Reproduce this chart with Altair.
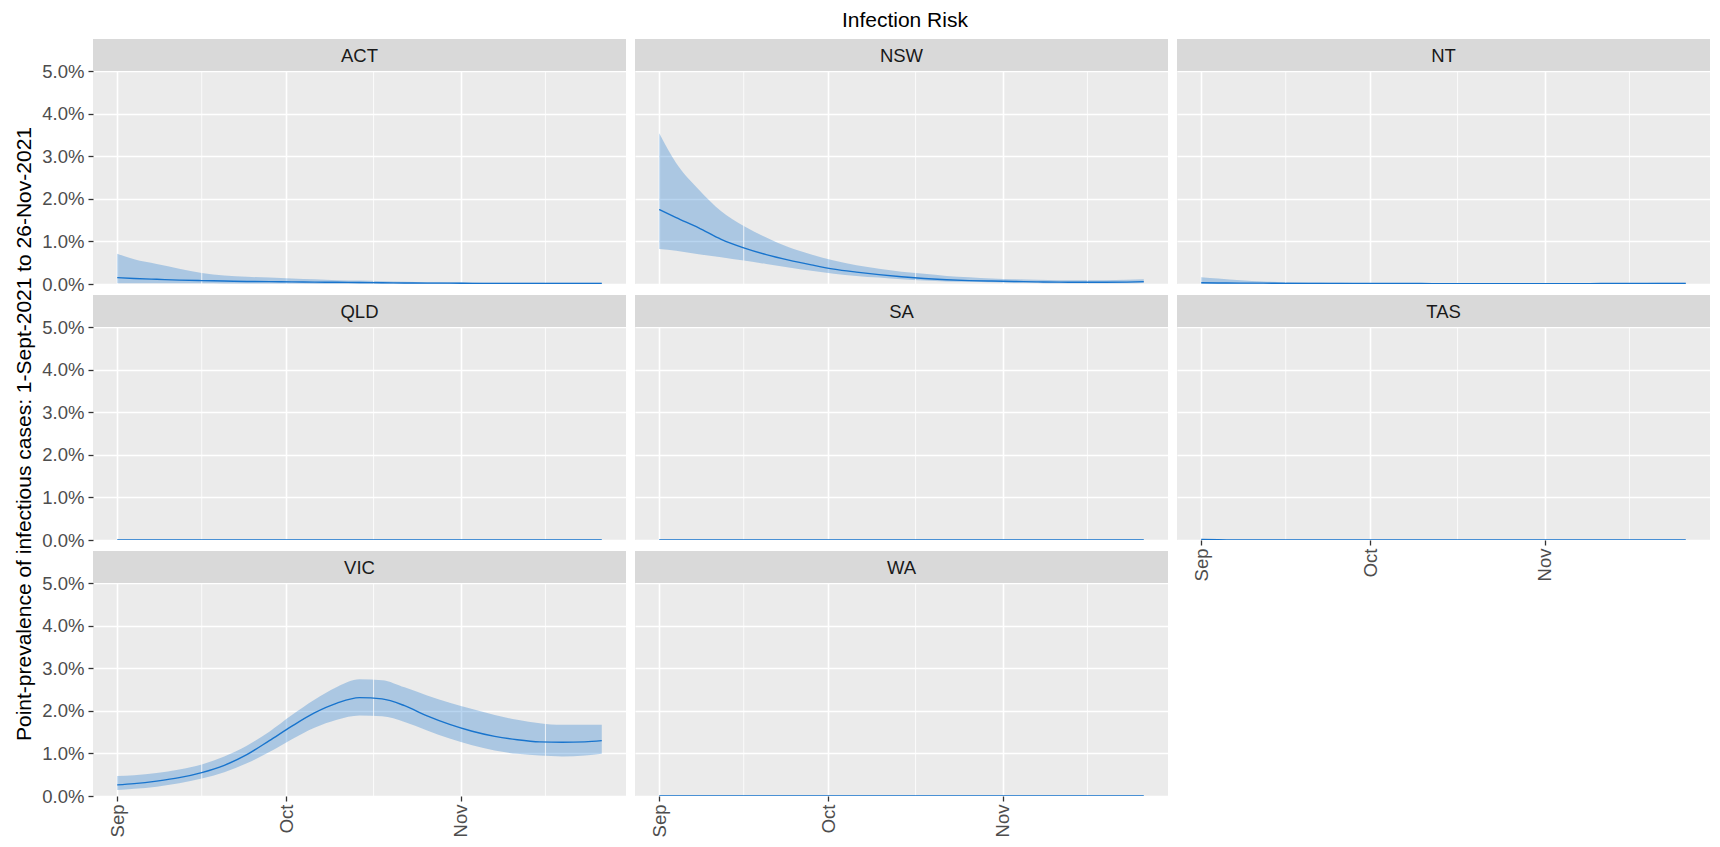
import altair as alt
import pandas as pd

# ---------------- data (values in percent) ----------------
dates = ["2021-09-01", "2021-09-04", "2021-09-08", "2021-09-12", "2021-09-16", "2021-09-20",
         "2021-09-24", "2021-09-28", "2021-10-02", "2021-10-06", "2021-10-10", "2021-10-14",
         "2021-10-18", "2021-10-22", "2021-10-26", "2021-10-30", "2021-11-03", "2021-11-07",
         "2021-11-11", "2021-11-15", "2021-11-19", "2021-11-23", "2021-11-26"]

states = ["ACT", "NSW", "NT", "QLD", "SA", "TAS", "VIC", "WA"]

act_med = [0.15, 0.13, 0.11, 0.09, 0.08, 0.07, 0.06, 0.055, 0.05, 0.045, 0.04, 0.035, 0.03, 0.025, 0.02, 0.02, 0.015, 0.015, 0.015, 0.015, 0.015, 0.015, 0.015]
act_lo = [0.02, 0.02, 0.02, 0.015, 0.015, 0.01, 0.01, 0.01, 0.01, 0.005, 0.005, 0.005, 0.005, 0.005, 0.005, 0.0, 0.0, 0.0, 0.0, 0.0, 0.0, 0.0, 0.0]
act_hi = [0.71, 0.58, 0.47, 0.36, 0.26, 0.20, 0.17, 0.15, 0.13, 0.11, 0.09, 0.08, 0.065, 0.055, 0.045, 0.04, 0.035, 0.03, 0.03, 0.03, 0.03, 0.03, 0.03]

nsw_med = [1.75, 1.56, 1.32, 1.05, 0.85, 0.69, 0.56, 0.45, 0.35, 0.28, 0.22, 0.17, 0.13, 0.10, 0.08, 0.07, 0.06, 0.05, 0.045, 0.04, 0.04, 0.045, 0.055]
nsw_lo = [0.82, 0.78, 0.70, 0.63, 0.55, 0.47, 0.39, 0.31, 0.24, 0.19, 0.15, 0.11, 0.08, 0.06, 0.05, 0.04, 0.03, 0.025, 0.02, 0.02, 0.02, 0.02, 0.025]
nsw_hi = [3.54, 2.84, 2.22, 1.71, 1.36, 1.09, 0.86, 0.69, 0.55, 0.44, 0.36, 0.29, 0.24, 0.19, 0.16, 0.13, 0.11, 0.10, 0.09, 0.09, 0.09, 0.10, 0.11]

nt_med = [0.03, 0.025, 0.02, 0.02, 0.015, 0.015, 0.01, 0.01, 0.01, 0.01, 0.01, 0.005, 0.005, 0.005, 0.005, 0.005, 0.005, 0.005, 0.01, 0.01, 0.01, 0.015, 0.015]
nt_lo = [0.005, 0.005, 0.005, 0.005, 0.0, 0.0, 0.0, 0.0, 0.0, 0.0, 0.0, 0.0, 0.0, 0.0, 0.0, 0.0, 0.0, 0.0, 0.0, 0.0, 0.0, 0.0, 0.0]
nt_hi = [0.16, 0.13, 0.09, 0.06, 0.045, 0.035, 0.03, 0.025, 0.02, 0.02, 0.02, 0.015, 0.015, 0.015, 0.015, 0.015, 0.015, 0.02, 0.02, 0.02, 0.025, 0.03, 0.03]

qld_med = [0.0, 0.0, 0.0, 0.0, 0.0, 0.0, 0.0, 0.0, 0.0, 0.0, 0.0, 0.0, 0.0, 0.0, 0.0, 0.0, 0.0, 0.0, 0.0, 0.0, 0.0, 0.0, 0.0]
qld_lo = [0.0, 0.0, 0.0, 0.0, 0.0, 0.0, 0.0, 0.0, 0.0, 0.0, 0.0, 0.0, 0.0, 0.0, 0.0, 0.0, 0.0, 0.0, 0.0, 0.0, 0.0, 0.0, 0.0]
qld_hi = [0.005, 0.005, 0.005, 0.005, 0.005, 0.005, 0.005, 0.005, 0.005, 0.005, 0.005, 0.005, 0.005, 0.005, 0.005, 0.005, 0.005, 0.005, 0.005, 0.005, 0.005, 0.005, 0.005]

sa_med = [0.0, 0.0, 0.0, 0.0, 0.0, 0.0, 0.0, 0.0, 0.0, 0.0, 0.0, 0.0, 0.0, 0.0, 0.0, 0.0, 0.0, 0.0, 0.0, 0.0, 0.0, 0.0, 0.0]
sa_lo = [0.0, 0.0, 0.0, 0.0, 0.0, 0.0, 0.0, 0.0, 0.0, 0.0, 0.0, 0.0, 0.0, 0.0, 0.0, 0.0, 0.0, 0.0, 0.0, 0.0, 0.0, 0.0, 0.0]
sa_hi = [0.005, 0.005, 0.005, 0.005, 0.005, 0.005, 0.005, 0.005, 0.005, 0.005, 0.005, 0.005, 0.005, 0.005, 0.005, 0.005, 0.005, 0.005, 0.005, 0.005, 0.005, 0.005, 0.005]

tas_med = [0.01, 0.005, 0.0, 0.0, 0.0, 0.0, 0.0, 0.0, 0.0, 0.0, 0.0, 0.0, 0.0, 0.0, 0.0, 0.0, 0.0, 0.0, 0.0, 0.0, 0.0, 0.0, 0.0]
tas_lo = [0.0, 0.0, 0.0, 0.0, 0.0, 0.0, 0.0, 0.0, 0.0, 0.0, 0.0, 0.0, 0.0, 0.0, 0.0, 0.0, 0.0, 0.0, 0.0, 0.0, 0.0, 0.0, 0.0]
tas_hi = [0.02, 0.01, 0.005, 0.005, 0.005, 0.005, 0.005, 0.005, 0.005, 0.005, 0.005, 0.005, 0.005, 0.005, 0.005, 0.005, 0.005, 0.005, 0.005, 0.005, 0.005, 0.005, 0.005]

vic_med = [0.26, 0.29, 0.35, 0.43, 0.55, 0.72, 0.97, 1.30, 1.64, 1.95, 2.18, 2.31, 2.28, 2.12, 1.88, 1.68, 1.52, 1.40, 1.32, 1.27, 1.26, 1.27, 1.30]
vic_lo = [0.14, 0.17, 0.22, 0.30, 0.41, 0.56, 0.77, 1.03, 1.33, 1.60, 1.79, 1.89, 1.87, 1.74, 1.54, 1.35, 1.19, 1.07, 0.99, 0.95, 0.93, 0.95, 0.99]
vic_hi = [0.47, 0.49, 0.54, 0.62, 0.74, 0.93, 1.18, 1.51, 1.90, 2.26, 2.56, 2.74, 2.72, 2.55, 2.36, 2.19, 2.04, 1.90, 1.79, 1.71, 1.67, 1.67, 1.67]

wa_med = [0.0, 0.0, 0.0, 0.0, 0.0, 0.0, 0.0, 0.0, 0.0, 0.0, 0.0, 0.0, 0.0, 0.0, 0.0, 0.0, 0.0, 0.0, 0.0, 0.0, 0.0, 0.0, 0.0]
wa_lo = [0.0, 0.0, 0.0, 0.0, 0.0, 0.0, 0.0, 0.0, 0.0, 0.0, 0.0, 0.0, 0.0, 0.0, 0.0, 0.0, 0.0, 0.0, 0.0, 0.0, 0.0, 0.0, 0.0]
wa_hi = [0.005, 0.005, 0.005, 0.005, 0.005, 0.005, 0.005, 0.005, 0.005, 0.005, 0.005, 0.005, 0.005, 0.005, 0.005, 0.005, 0.005, 0.005, 0.005, 0.005, 0.005, 0.005, 0.005]

minor_grid_dates = ["2021-09-16T00:00:00Z", "2021-10-16T12:00:00Z", "2021-11-16T00:00:00Z"]
y_ticks = [0.0, 0.01, 0.02, 0.03, 0.04, 0.05]

series = {
    "ACT": (act_med, act_lo, act_hi), "NSW": (nsw_med, nsw_lo, nsw_hi),
    "NT": (nt_med, nt_lo, nt_hi), "QLD": (qld_med, qld_lo, qld_hi),
    "SA": (sa_med, sa_lo, sa_hi), "TAS": (tas_med, tas_lo, tas_hi),
    "VIC": (vic_med, vic_lo, vic_hi), "WA": (wa_med, wa_lo, wa_hi),
}

rows = []
for st in states:
    med, lo, hi = series[st]
    for d, m, l, h in zip(dates, med, lo, hi):
        rows.append({"state": st, "date": d, "med": m / 100, "lo": l / 100, "hi": h / 100})
df = pd.DataFrame(rows)
minor_df = pd.DataFrame({"date": minor_grid_dates})

# ---------------- styling ----------------
W, H, STRIP = 533, 213, 32
FONT = "Liberation Sans"
BLUE = "#1874CD"

x_domain = [alt.DateTime(year=2021, month=8, date=27, hours=16, minutes=48, utc=True),
            alt.DateTime(year=2021, month=11, date=30, hours=7, minutes=12, utc=True)]
x_major = [alt.DateTime(year=2021, month=9, date=1, utc=True),
           alt.DateTime(year=2021, month=10, date=1, utc=True),
           alt.DateTime(year=2021, month=11, date=1, utc=True)]
x_scale = alt.Scale(type="utc", domain=x_domain, nice=False)
y_scale = alt.Scale(domain=[0, 0.05], nice=False, zero=False)

Y_TITLE = "Point-prevalence of infectious cases: 1-Sept-2021 to 26-Nov-2021"


def panel(state, col):
    show_x = state in ("VIC", "WA", "TAS")
    show_y = col == 0
    xaxis = alt.Axis(values=x_major, grid=True, gridColor="white", gridWidth=1.6,
                     domain=False, labels=show_x, ticks=show_x, tickColor="#333333",
                     tickSize=5, tickWidth=1.3, labelAngle=270,
                     labelExpr="utcFormat(datum.value, '%b')", labelFontSize=18.5,
                     labelColor="#4D4D4D", labelPadding=3, labelFlush=False,
                     labelOverlap=False, title=None)
    yaxis_kwargs = dict(values=y_ticks, grid=True, gridColor="white", gridWidth=1.3,
                        domain=False, labels=show_y, ticks=show_y, tickColor="#333333",
                        tickSize=5, tickWidth=1.3, format=".1%", labelFontSize=18.5,
                        labelColor="#4D4D4D", labelPadding=4, labelFlush=False)
    if state == "QLD":
        yaxis = alt.Axis(title=Y_TITLE, titleFontSize=21, titleFontWeight="normal",
                         titleColor="black", titlePadding=7, **yaxis_kwargs)
    else:
        yaxis = alt.Axis(title=None, **yaxis_kwargs)

    d = df[df.state == state]
    base = alt.Chart(d)
    x_enc = alt.X("date:T", scale=x_scale, axis=xaxis)

    strip_df = pd.DataFrame({"state": [state]})
    strip = alt.Chart(strip_df).mark_rect(color="#D9D9D9").encode(
        x=alt.value(0), x2=alt.value(W), y=alt.value(-STRIP), y2=alt.value(0))
    strip_text = alt.Chart(strip_df).mark_text(
        fontSize=18.5, color="#1A1A1A", baseline="middle", align="center").encode(
        x=alt.value(W / 2), y=alt.value(-STRIP / 2 + 1), text="state:N")
    minor = alt.Chart(minor_df).mark_rule(color="white", strokeWidth=0.8).encode(
        x=alt.X("date:T", scale=x_scale, axis=xaxis))
    band = base.mark_area(color=BLUE, opacity=0.3, interpolate="monotone", clip=True).encode(
        x=x_enc, y=alt.Y("lo:Q", scale=y_scale, axis=yaxis), y2="hi:Q")
    line = base.mark_line(color=BLUE, strokeWidth=1.4, interpolate="monotone", clip=True).encode(
        x=x_enc, y=alt.Y("med:Q", scale=y_scale, axis=yaxis))
    return alt.layer(band, minor, line, strip, strip_text).properties(width=W, height=H)


panels = [panel(st, i % 3) for i, st in enumerate(states)]

chart = alt.concat(*panels, columns=3, spacing={"row": 43, "column": 9}, bounds="flush").properties(
    title=alt.TitleParams("Infection Risk", fontSize=21, font=FONT, fontWeight="normal",
                          color="black", anchor="middle", offset=8, dx=43),
    padding={"left": 5, "top": 2, "right": 0, "bottom": 0},
).configure(font=FONT).configure_view(fill="#EBEBEB", stroke=None)

chart.save("out.html", embed_options={"renderer": "svg", "actions": False})
